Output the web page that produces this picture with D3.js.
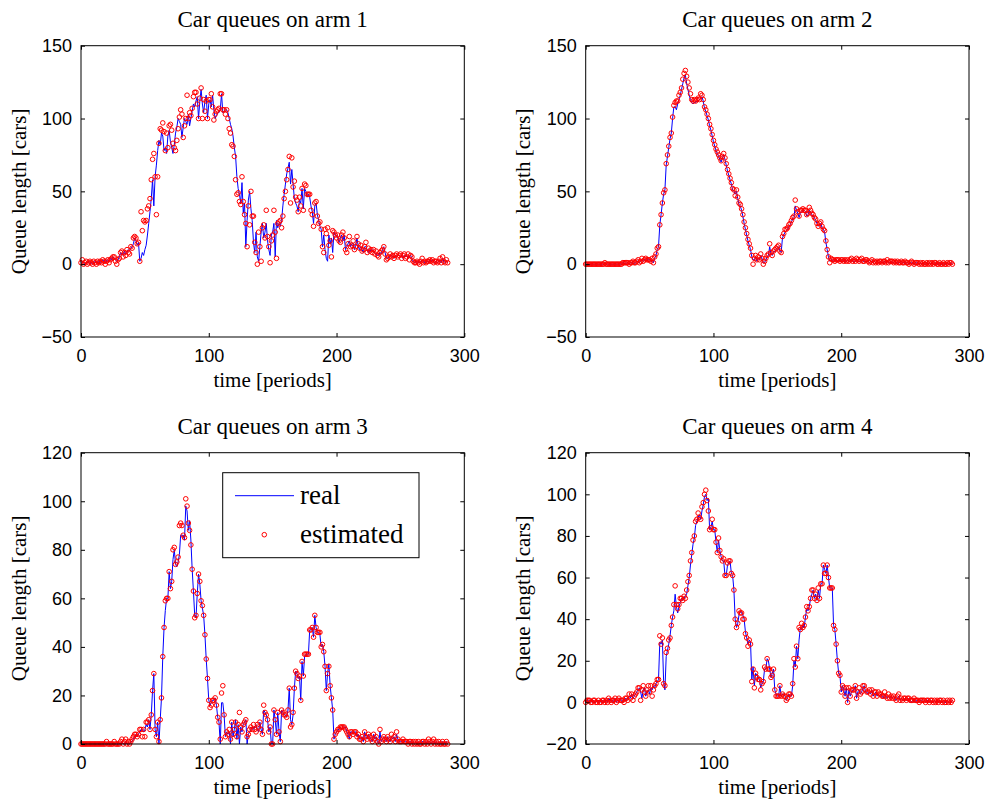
<!DOCTYPE html>
<html>
<head>
<meta charset="utf-8">
<script src="https://cdn.jsdelivr.net/npm/d3@7"></script>
<style>
  body { margin: 0; background: #fff; }
  svg { display: block; }
  .tick text { font-family: "Liberation Sans", Arial, sans-serif; font-size: 18px; fill: #000; }
  .lbl { font-family: "Liberation Serif", "Times New Roman", serif; fill: #000; }
</style>
</head>
<body>
<svg id="chart" width="989" height="800"></svg>
<script>
// queue length per period (0..287)
var arm1Real = [
  1,2,1,0,1,1,2,1,1,0, 1,2,1,1,2,1,2,3,2,1, 3,2,2,4,3,5,4,3,2,3, 5,8,7,6,9,7,8,10,9,11,
  12,14,18,16,13,15,2,4,8,6, 10,13,20,28,36,45,58,40,60,68, 78,85,82,90,88,78,80,76,88,92,
  84,80,76,82,90,94,100,98,96,87, 94,100,98,96,103,95,100,105,110,108, 112,115,100,112,120,110,104,112,116,100,
  110,113,108,116,106,100,102,104,104,106, 117,104,105,106,106,104,100,96,93,88, 80,74,60,52,48,42,56,35,42,12,
  30,44,50,38,30,15,8,22,5,2, 12,22,28,18,22,28,16,10,6,20, 22,28,5,30,25,28,26,30,40,48,
  55,62,66,70,55,65,55,45,42,40, 36,44,42,52,38,52,50,46,48,46, 40,36,28,40,42,34,30,26,24,12,
  20,10,4,2,20,14,18,8,22,20, 20,18,15,18,20,16,20,10,12,14, 16,12,14,14,10,13,18,12,10,12,
  10,8,12,12,10,8,10,9,10,8, 8,7,6,6,8,7,10,12,8,4, 4,5,6,6,5,4,6,5,6,6,
  5,6,4,6,5,6,4,5,6,4, 2,1,2,1,2,1,2,3,2,1, 2,2,1,3,2,3,2,1,2,1, 2,3,1,4,2,1,2,1
]
var arm1Est = [
  1,3,0,1,2,0,1,2,1,0, 2,1,0,2,1,2,1,3,2,0, 2,3,1,3,4,5,5,2,0,3, 4,8,9,5,8,6,10,8,7,12,
  11,18,19,18,14,15,2,36,23,30, 29,30,38,40,45,58,72,76,60,34, 60,83,93,92,97,91,78,90,80,95,
  96,92,83,80,78,85,93,101,106,103, 87,95,100,116,100,104,102,107,115,118, 118,110,100,114,121,100,113,105,112,100,
  113,113,117,108,99,103,105,106,107,117, 117,106,106,103,106,100,93,90,82,81, 74,58,48,49,43,41,60,43,34,28,
  12,40,27,50,33,33,15,8,0,22, 12,2,25,27,18,37,19,12,1,16, 20,37,22,4,28,29,30,25,33,45,
  50,58,65,74,42,73,53,57,46,44, 36,46,40,52,37,55,54,48,48,48, 37,34,26,42,43,33,28,29,24,12,
  8,24,21,25,13,16,5,23,22,20, 18,20,16,15,20,22,18,10,8,14, 19,12,13,16,10,12,19,14,11,13,
  9,10,12,15,8,11,9,10,8,10, 7,9,6,5,8,9,10,12,7,3, 4,5,7,5,6,4,6,7,5,6,
  7,4,6,7,4,5,7,3,6,5, 2,1,1,2,1,0,2,4,1,2, 1,2,2,3,2,3,1,2,2,1, 2,4,1,5,2,1,3,1
]
var arm2Real = [
  0,0,0,0,0,0,0,0,0,0, 0,0,0,0,0,1,0,0,0,0, 0,0,0,0,0,0,0,0,0,1, 1,0,1,1,0,1,1,1,0,1,
  2,2,1,2,3,2,3,3,4,3, 3,2,3,1,4,6,10,12,27,34, 42,48,51,68,74,80,86,90,100,108,
  108,106,110,113,116,120,124,128,130,124, 120,116,113,111,110,111,111,112,112,113, 114,115,112,107,105,102,99,95,92,88,
  84,81,78,76,74,72,70,73,75,72, 68,64,61,58,55,51,50,48,50,45, 41,40,37,33,28,24,20,16,13,10,
  5,3,3,5,2,4,3,6,4,1, 1,3,5,6,12,7,6,8,9,10, 11,12,9,8,18,20,22,23,24,26,
  27,29,31,32,40,37,35,32,35,36, 37,37,36,33,34,37,36,34,33,32, 30,28,26,27,28,25,24,22,15,10,
  5,2,3,3,2,3,3,2,3,2, 2,3,2,2,2,3,2,2,3,2, 2,2,3,2,2,2,3,2,2,2,
  2,2,1,2,2,1,2,1,2,1, 1,2,1,1,2,1,2,1,1,2, 1,1,2,1,1,1,1,2,1,1,
  1,1,1,0,1,1,1,0,1,1, 1,0,1,0,1,0,0,1,0,1, 0,1,0,0,1,0,0,1,0,0, 1,0,0,1,0,0,1,0
]
var arm2Est = [
  0,0,0,0,0,0,0,0,0,0, 0,0,0,0,0,1,0,0,0,0, 0,0,0,0,0,0,0,0,0,1, 1,1,1,1,0,1,1,2,1,1,
  2,3,1,2,4,2,3,4,3,3, 3,2,4,1,5,7,11,12,27,34, 42,49,51,69,75,81,87,90,101,109,
  111,112,112,116,118,121,127,131,133,129, 125,121,117,113,112,113,112,113,114,113, 117,116,113,108,106,103,100,96,93,89,
  85,82,79,77,75,73,71,74,76,73, 69,65,62,59,56,52,51,47,51,46, 42,41,38,34,29,25,21,17,14,11,
  6,0,4,6,3,5,3,7,4,0, 2,4,6,7,14,8,6,9,10,11, 12,13,9,8,19,21,24,24,25,27,
  28,30,32,33,44,38,36,33,37,37, 38,37,37,34,35,39,37,35,34,32, 31,28,26,28,29,26,24,23,16,10,
  5,1,4,3,3,2,3,3,3,2, 3,3,2,3,2,3,2,3,4,2, 3,2,4,3,2,3,4,2,2,3,
  3,2,1,2,3,1,2,1,2,1, 2,2,1,2,2,1,3,1,2,2, 2,1,2,1,2,1,1,2,1,1,
  2,1,1,0,1,2,1,0,1,1, 1,0,1,0,1,0,0,1,0,1, 0,1,0,1,1,0,0,1,0,0, 1,0,0,1,0,1,1,0
]
var arm3Real = [
  0,0,0,0,0,0,0,0,0,0, 0,0,0,0,0,0,0,0,0,0, 0,0,0,0,0,0,0,0,0,0, 0,0,1,0,0,1,0,0,0,1,
  1,2,3,4,3,4,5,6,6,5, 6,8,7,10,6,12,22,29,6,3, 9,0,10,19,36,48,55,60,60,71,
  64,67,76,80,74,73,75,78,86,86, 86,84,98,96,88,92,84,72,63,53, 52,62,70,66,59,56,53,45,35,27,
  18,16,17,18,18,19,16,11,9,0, 17,17,12,3,5,4,5,0,9,3, 6,10,2,8,0,7,5,8,9,10,
  0,4,5,6,7,6,7,8,6,5, 9,6,4,14,13,12,10,5,7,0, 0,14,10,4,13,5,1,14,13,12,
  12,11,14,23,10,8,12,23,30,29, 27,28,18,34,28,36,37,37,37,47, 47,48,44,53,48,46,46,45,40,41,
  38,32,22,29,33,24,19,14,2,4, 5,6,6,7,6,7,7,7,5,4, 2,5,5,4,5,5,3,4,2,2,
  3,1,5,3,2,4,3,2,1,4, 2,3,1,0,5,1,2,3,2,1, 3,2,1,3,2,3,1,4,2,1,
  1,1,2,1,1,1,0,1,1,0, 1,0,1,0,1,0,0,1,1,0, 1,0,1,1,0,1,1,0,1,0, 1,0,0,1,0,0,1,0
]
var arm3Est = [
  0,0,0,0,0,0,0,0,0,0, 0,0,0,0,0,0,0,0,0,0, 1,0,0,0,0,0,1,0,0,0, 0,1,2,0,1,2,0,1,0,1,
  2,3,4,4,3,4,6,6,3,6, 3,9,9,10,6,12,22,29,6,3, 9,1,10,19,36,48,59,60,60,71,
  64,67,80,81,74,75,77,90,91,90, 86,85,101,98,91,88,82,72,63,52, 53,62,70,67,59,57,53,45,35,27,
  18,15,16,18,18,19,16,11,9,2, 21,24,12,3,5,4,6,2,9,4, 6,9,3,8,13,7,5,8,9,10,
  3,4,6,7,6,8,6,5,8,7, 9,6,4,16,13,12,10,5,7,0, 0,14,10,4,13,5,1,14,13,12,
  12,11,14,23,7,8,13,23,30,29, 27,28,18,34,28,37,37,37,37,47, 47,48,44,53,48,46,46,46,40,41,
  38,32,22,29,32,24,19,14,2,4, 5,6,6,7,7,7,7,6,5,4, 3,5,5,4,5,5,3,4,2,2,
  3,1,5,3,2,4,3,2,1,4, 2,3,1,0,6,1,2,3,2,1, 3,2,1,4,2,3,1,5,2,1,
  1,1,2,1,1,1,0,1,1,0, 1,0,1,0,1,0,0,1,1,0, 1,0,2,1,0,1,2,0,1,0, 1,0,0,1,0,0,1,0
]
var arm4Real = [
  0,1,1,0,1,0,1,0,0,1, 0,1,0,1,0,1,1,0,2,1, 1,0,1,2,0,1,1,2,1,0, 1,2,1,2,3,2,4,2,3,4,
  5,6,7,5,2,6,7,3,5,6, 4,7,6,8,7,9,10,11,29,28, 30,10,6,22,25,28,32,37,41,44,
  52,46,43,46,48,50,49,50,51,52, 56,60,66,71,76,79,85,87,89,90, 88,92,95,99,100,97,98,83,84,87,
  83,83,77,72,78,73,70,68,68,61, 61,66,67,68,62,61,54,40,36,38, 42,44,43,42,40,34,31,28,30,29,
  11,17,8,14,13,12,11,7,9,10, 16,16,21,20,16,12,14,16,6,4, 3,3,8,3,4,4,3,1,2,4,
  3,3,8,20,17,27,21,30,36,35, 37,36,41,45,44,46,50,52,54,50, 52,49,54,50,57,57,66,64,62,66,
  60,55,55,55,37,35,28,20,14,13, 5,8,6,3,7,0,6,3,5,6, 6,8,2,5,6,4,5,7,8,5,
  5,4,5,4,6,3,4,5,3,4, 3,4,3,2,4,3,2,3,2,3, 2,3,2,1,2,3,1,2,1,1,
  2,1,1,2,1,0,1,1,0,1, 1,0,1,1,0,1,0,1,1,0, 1,0,0,1,0,1,0,1,0,0, 1,0,0,1,0,0,0,1
]
var arm4Est = [
  0,1,1,1,0,0,1,1,0,0, 1,0,0,1,1,0,1,0,2,1, 0,1,1,2,0,1,2,1,1,1, 0,2,2,1,4,2,4,1,3,4,
  5,7,7,1,6,8,5,3,6,8, 5,8,3,6,8,9,11,11,32,28, 31,9,8,24,26,30,31,37,41,47,
  56,47,45,47,50,50,49,51,50,54, 58,61,68,72,78,80,87,88,91,89, 88,94,96,100,102,97,92,83,84,88,
  83,83,77,72,79,73,70,68,69,61, 61,67,68,68,62,61,54,40,36,38, 44,43,43,40,40,33,31,27,30,28,
  10,16,7,14,12,11,11,6,9,10, 17,16,21,16,16,12,13,16,6,3, 3,3,8,3,4,3,3,1,2,4,
  4,3,9,21,17,27,21,36,35,38, 36,37,41,46,44,46,50,54,54,50, 52,49,55,50,57,57,66,62,62,66,
  60,55,55,55,37,35,28,20,14,13, 5,8,7,3,7,0,7,3,6,6, 6,8,2,5,7,4,5,8,8,6,
  5,5,6,4,6,3,5,5,3,5, 4,4,3,3,5,3,2,4,2,3, 2,3,2,1,3,4,1,2,1,2,
  2,1,2,2,1,1,1,2,1,1, 1,0,1,1,1,1,0,1,1,0, 1,1,0,1,0,1,0,1,1,0, 1,0,0,1,0,1,0,1
]

var xTicks = [0, 100, 200, 300]
var yTicksArm12 = [-50, 0, 50, 100, 150]
var yTicksArm3 = [0, 20, 40, 60, 80, 100, 120]
var yTicksArm4 = [-20, 0, 20, 40, 60, 80, 100, 120]
var titles = ["Car queues on arm 1", "Car queues on arm 2", "Car queues on arm 3", "Car queues on arm 4"]
var legendLabels = ["real", "estimated"]

var panels = [
  { title: titles[0], real: arm1Real, est: arm1Est, yTicks: yTicksArm12 },
  { title: titles[1], real: arm2Real, est: arm2Est, yTicks: yTicksArm12 },
  { title: titles[2], real: arm3Real, est: arm3Est, yTicks: yTicksArm3, legend: true },
  { title: titles[3], real: arm4Real, est: arm4Est, yTicks: yTicksArm4 }
]

var dims = {
  cols: [81, 585.7],
  rows: [45.7, 452.7],
  w: 383.3,
  h: 291.3,
  tick: 4
}

var svg = d3.select("#chart")

panels.forEach(function (p, i) {
  var g = svg.append("g")
    .attr("transform", `translate(${dims.cols[i % 2]},${dims.rows[Math.floor(i / 2)]})`)

  var xScale = d3.scaleLinear().domain([0, 300]).range([0, dims.w])
  var yScale = d3.scaleLinear().domain(d3.extent(p.yTicks)).range([dims.h, 0])

  var line = d3.line()
    .x((d, k) => xScale(k))
    .y(d => yScale(d))

  // real queue: blue line
  g.append("path")
    .datum(p.real)
    .attr("d", line)
    .attr("fill", "none")
    .attr("stroke", "#0000ff")
    .attr("stroke-width", 1)

  // estimated queue: red open circles
  g.append("g")
    .selectAll("circle")
    .data(p.est)
    .enter()
    .append("circle")
    .attr("cx", (d, k) => xScale(k))
    .attr("cy", d => yScale(d))
    .attr("r", 2.3)
    .attr("fill", "none")
    .attr("stroke", "#ff0000")
    .attr("stroke-width", 1)

  // axes, ticks pointing inwards on all four sides
  g.append("g")
    .attr("transform", `translate(0,${dims.h})`)
    .call(d3.axisBottom(xScale).tickValues(xTicks).tickSizeInner(-dims.tick).tickSizeOuter(0).tickPadding(12))
    .call(a => a.select(".domain").remove())
  g.append("g")
    .call(d3.axisTop(xScale).tickValues(xTicks).tickSizeInner(-dims.tick).tickSizeOuter(0).tickFormat(""))
    .call(a => a.select(".domain").remove())
  g.append("g")
    .call(d3.axisLeft(yScale).tickValues(p.yTicks).tickSizeInner(-dims.tick).tickSizeOuter(0).tickPadding(9))
    .call(a => a.select(".domain").remove())
  g.append("g")
    .attr("transform", `translate(${dims.w},0)`)
    .call(d3.axisRight(yScale).tickValues(p.yTicks).tickSizeInner(-dims.tick).tickSizeOuter(0).tickFormat(""))
    .call(a => a.select(".domain").remove())

  g.append("rect")
    .attr("x", 0).attr("y", 0)
    .attr("width", dims.w).attr("height", dims.h)
    .attr("fill", "none")
    .attr("stroke", "#000")
    .attr("stroke-width", 1)

  // titles and labels
  g.append("text")
    .attr("class", "lbl")
    .attr("x", dims.w / 2)
    .attr("y", -18.4)
    .attr("text-anchor", "middle")
    .attr("font-size", 23)
    .text(p.title)

  g.append("text")
    .attr("class", "lbl")
    .attr("x", dims.w / 2)
    .attr("y", dims.h + 50)
    .attr("text-anchor", "middle")
    .attr("font-size", 21)
    .text("time [periods]")

  g.append("text")
    .attr("class", "lbl")
    .attr("transform", `translate(-55.5,${dims.h / 2}) rotate(-90)`)
    .attr("text-anchor", "middle")
    .attr("font-size", 21)
    .text("Queue length [cars]")

  if (p.legend) {
    var lg = g.append("g").attr("transform", "translate(141.7,20)")
    lg.append("rect")
      .attr("width", 196.3).attr("height", 85)
      .attr("fill", "#fff")
      .attr("stroke", "#000")
      .attr("stroke-width", 1)
    lg.append("line")
      .attr("x1", 12.3).attr("x2", 71.3)
      .attr("y1", 23).attr("y2", 23)
      .attr("stroke", "#0000ff")
      .attr("stroke-width", 1)
    lg.append("circle")
      .attr("cx", 41.6).attr("cy", 62)
      .attr("r", 2.3)
      .attr("fill", "none")
      .attr("stroke", "#ff0000")
    lg.selectAll("text.leg")
      .data(legendLabels)
      .enter()
      .append("text")
      .attr("class", "lbl leg")
      .attr("x", 77.3)
      .attr("y", (d, k) => k == 0 ? 31.6 : 70.6)
      .attr("font-size", 27)
      .text(d => d)
  }
})
</script>
</body>
</html>
